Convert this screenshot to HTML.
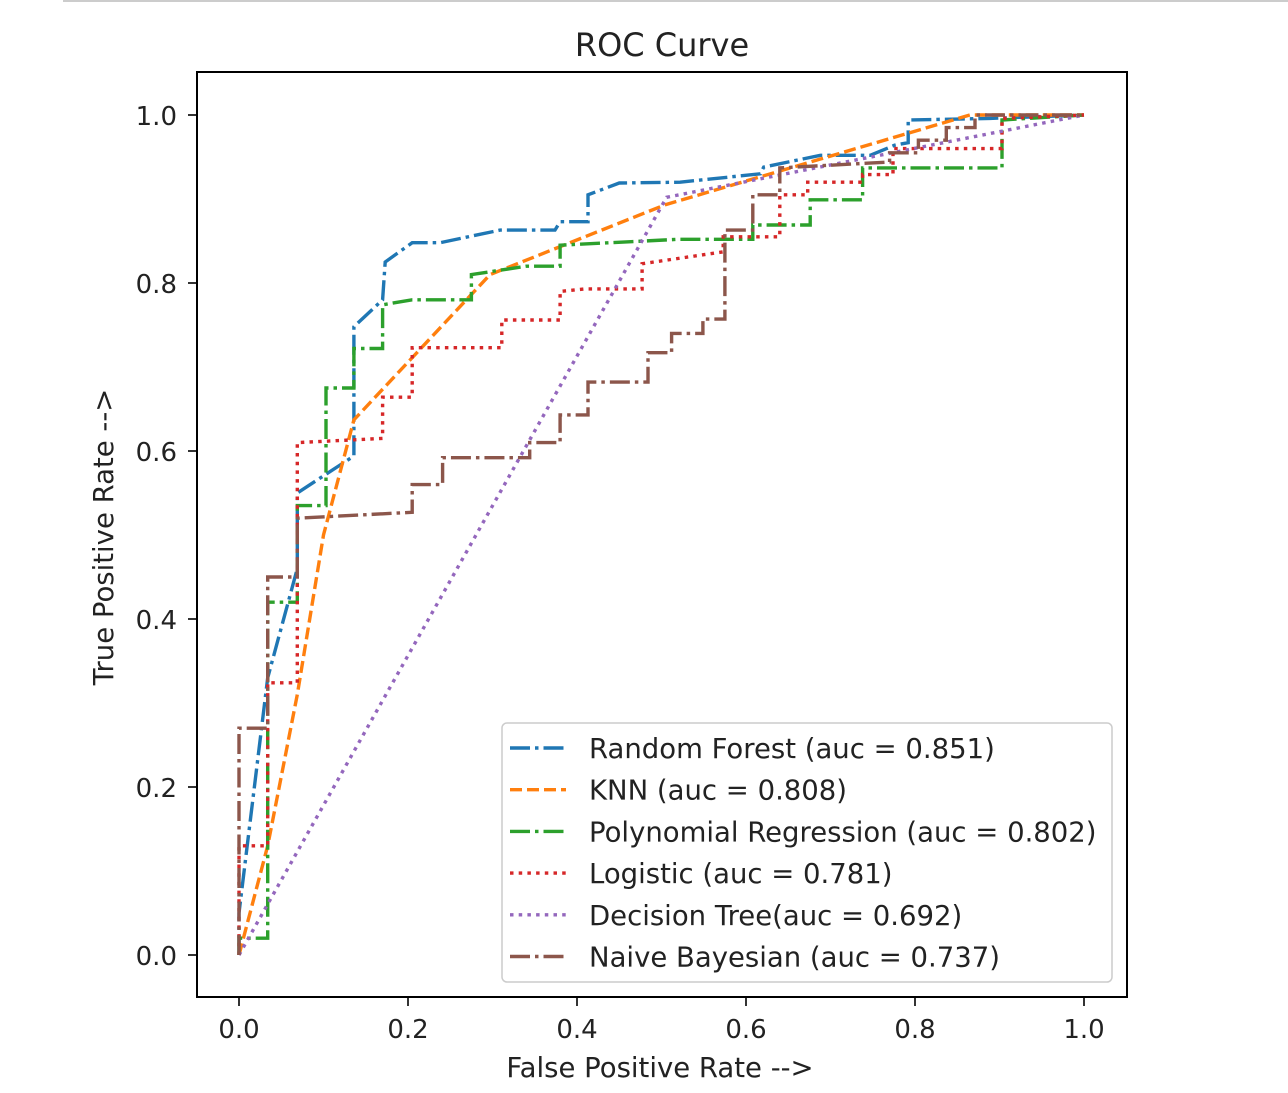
<!DOCTYPE html>
<html><head><meta charset="utf-8"><style>
html,body{margin:0;padding:0;background:#fff;}
svg text{font-family:"DejaVu Sans","Liberation Sans",sans-serif;fill:#222;}
</style></head><body>
<svg id="chart" width="1288" height="1088" viewBox="0 0 1288 1088" xmlns="http://www.w3.org/2000/svg">
<line x1="63" y1="1" x2="1288" y2="1" stroke="#ccc" stroke-width="2"/>
<text x="662" y="56" text-anchor="middle" font-size="32">ROC Curve</text>
<g id="ticks"></g>
<g id="series"></g>
<rect x="197" y="72" width="930" height="925" fill="none" stroke="#000" stroke-width="2"/>
<text x="660" y="1077" text-anchor="middle" font-size="27.5">False Positive Rate --&gt;</text>
<text transform="translate(113,537) rotate(-90)" text-anchor="middle" font-size="27.5">True Positive Rate --&gt;</text>
<g id="legend"></g>
</svg>
<script>
const xTicks=[0,0.2,0.4,0.6,0.8,1.0];
const yTicks=[0,0.2,0.4,0.6,0.8,1.0];
const seriesNames=["Random Forest (auc = 0.851)","KNN (auc = 0.808)","Polynomial Regression (auc = 0.802)","Logistic (auc = 0.781)","Decision Tree(auc = 0.692)","Naive Bayesian (auc = 0.737)"];
const rfFpr=[0,0,0.034,0.069,0.069,0.136,0.136,0.17,0.173,0.205,0.238,0.309,0.374,0.38,0.413,0.413,0.45,0.522,0.617,0.621,0.688,0.747,0.776,0.792,0.792,0.889,1];
const rfTpr=[0,0.05,0.33,0.46,0.55,0.594,0.748,0.78,0.825,0.848,0.848,0.863,0.863,0.873,0.873,0.905,0.919,0.92,0.93,0.938,0.952,0.952,0.964,0.967,0.994,0.996,1];
const knnFpr=[0,0.034,0.069,0.1,0.136,0.297,0.504,0.865,1];
const knnTpr=[0,0.13,0.31,0.5,0.637,0.81,0.893,1,1];
const polyFpr=[0,0,0.034,0.034,0.069,0.069,0.103,0.103,0.136,0.136,0.17,0.17,0.205,0.275,0.275,0.34,0.38,0.38,0.52,0.608,0.608,0.676,0.676,0.738,0.738,0.903,0.903,1];
const polyTpr=[0,0.02,0.02,0.42,0.42,0.535,0.535,0.675,0.675,0.722,0.722,0.774,0.78,0.78,0.81,0.82,0.82,0.845,0.852,0.852,0.869,0.869,0.899,0.899,0.937,0.937,0.994,1];
const logFpr=[0,0,0.034,0.034,0.069,0.069,0.17,0.17,0.205,0.205,0.311,0.311,0.38,0.38,0.41,0.477,0.477,0.573,0.573,0.64,0.64,0.673,0.673,0.738,0.738,0.774,0.774,0.903,0.903,1];
const logTpr=[0,0.13,0.13,0.324,0.324,0.61,0.615,0.664,0.664,0.723,0.723,0.756,0.756,0.79,0.793,0.793,0.823,0.837,0.855,0.855,0.905,0.905,0.92,0.92,0.929,0.929,0.96,0.96,0.996,1];
const dtFpr=[0,0.506,1];
const dtTpr=[0,0.902,1];
const nbFpr=[0,0,0.034,0.034,0.069,0.069,0.205,0.205,0.241,0.241,0.344,0.344,0.38,0.38,0.413,0.413,0.484,0.484,0.512,0.512,0.549,0.549,0.575,0.575,0.608,0.608,0.64,0.64,0.77,0.77,0.804,0.804,0.837,0.837,0.871,0.871,1];
const nbTpr=[0,0.27,0.27,0.45,0.45,0.52,0.527,0.56,0.56,0.592,0.592,0.61,0.61,0.643,0.643,0.682,0.682,0.717,0.717,0.74,0.74,0.757,0.757,0.863,0.863,0.905,0.905,0.937,0.944,0.955,0.955,0.97,0.97,0.985,0.985,1,1];
const colors=["#1f77b4","#ff7f0e","#2ca02c","#d62728","#9467bd","#8c564b"];
const dashes=["20,5,3.5,5","12,5","20,5,3.5,5","3.5,5.2","3.5,5.2","20,5,3.5,5"];
const allF=[rfFpr,knnFpr,polyFpr,logFpr,dtFpr,nbFpr];
const allT=[rfTpr,knnTpr,polyTpr,logTpr,dtTpr,nbTpr];
const seriesKeys=["random-forest","knn","polynomial-regression","logistic","decision-tree","naive-bayesian"];
const NS="http://www.w3.org/2000/svg";
const X=v=>239+v*845, Y=v=>955-v*840;
function mk(t,a){const e=document.createElementNS(NS,t);for(const k in a)e.setAttribute(k,a[k]);return e;}
const tg=document.getElementById('ticks');
xTicks.forEach(v=>{
  const l=mk('line',{x1:X(v),x2:X(v),y1:997,y2:1006,stroke:'#000','stroke-width':1.6});
  
  
  tg.appendChild(l);
  const t=mk('text',{x:X(v),y:1038,'text-anchor':'middle','font-size':26});
  t.textContent=v.toFixed(1);
  
  
  tg.appendChild(t);
});
yTicks.forEach(v=>{
  const l=mk('line',{x1:188,x2:197,y1:Y(v),y2:Y(v),stroke:'#000','stroke-width':1.6});
  
  
  tg.appendChild(l);
  const t=mk('text',{x:177,y:Y(v)+10,'text-anchor':'end','font-size':26});
  t.textContent=v.toFixed(1);
  
  
  tg.appendChild(t);
});
const sg=document.getElementById('series');
allF.forEach((f,i)=>{
  const pts=f.map((x,j)=>X(x).toFixed(1)+','+Y(allT[i][j]).toFixed(1)).join(' ');
  const p=mk('polyline',{points:pts,fill:'none',stroke:colors[i],'stroke-width':3.4,'stroke-dasharray':dashes[i]});
  
  
  sg.appendChild(p);
});
const lg=document.getElementById('legend');
const box=mk('rect',{x:502,y:723,width:610,height:259,rx:5,fill:'#fff','fill-opacity':0.85,stroke:'#ccc','stroke-width':1.5});


lg.appendChild(box);
seriesNames.forEach((n,i)=>{
  const y=748+i*41.7;
  const l=mk('line',{x1:510,x2:566,y1:y,y2:y,stroke:colors[i],'stroke-width':3.4,'stroke-dasharray':dashes[i]});
  
  
  lg.appendChild(l);
  const t=mk('text',{x:589,y:y+10,'font-size':27.5});
  t.textContent=n;
  
  
  lg.appendChild(t);
});
</script>
</body></html>
